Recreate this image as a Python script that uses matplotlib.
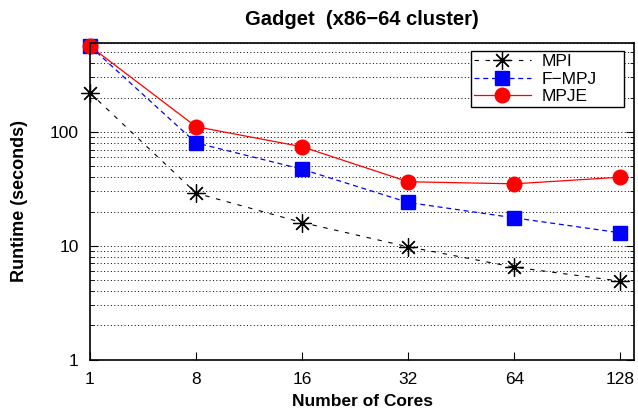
import matplotlib
matplotlib.use("Agg")
import matplotlib.pyplot as plt
from matplotlib.ticker import LogLocator, FixedLocator, NullFormatter

plt.rcParams['font.family'] = ['Liberation Sans', 'DejaVu Sans']

cores = ['1', '8', '16', '32', '64', '128']
mpi = [220, 29, 16, 9.8, 6.5, 4.9]
fmpj = [565, 80, 47, 24, 17.6, 13]
mpje = [565, 111, 74, 36.5, 35, 40]

fig = plt.figure(figsize=(6.38, 4.15), dpi=100)
ax = fig.add_axes([0.141, 0.133, 0.853, 0.763])

x = list(range(len(cores)))
ax.plot(x, mpi, linestyle=(0, (4, 6)), color='black', linewidth=0.8,
        marker=(8, 2, 0), markersize=13, markeredgewidth=0.9,
        markeredgecolor='black', label='MPI', clip_on=False)
ax.plot(x, fmpj, linestyle=(0, (4, 3)), color='blue', linewidth=0.9,
        marker='s', markersize=10, markerfacecolor='blue',
        markeredgecolor='blue', label='F\u2212MPJ', clip_on=False)
ax.plot(x, mpje, linestyle='-', color='red', linewidth=0.9,
        marker='o', markersize=10.5, markerfacecolor='red',
        markeredgecolor='red', label='MPJE', clip_on=False)

ax.set_yscale('log')
ax.set_ylim(1, 600)
ax.set_xlim(0, 5.13)
ax.set_xticks(x)
ax.set_xticklabels(cores)
ax.yaxis.set_major_locator(FixedLocator([1, 10, 100]))
ax.set_yticklabels(['1', '10', '100'])
ax.yaxis.set_minor_locator(LogLocator(base=10, subs=range(2, 10)))
ax.yaxis.set_minor_formatter(NullFormatter())

ax.grid(True, which='both', axis='y', linestyle=(0, (1, 2.5)),
        color='black', linewidth=0.7)
ax.tick_params(axis='both', which='both', direction='in', labelsize=12.5)
ax.tick_params(axis='y', which='both', right=True)
ax.tick_params(axis='y', which='major', length=6, pad=8)
ax.tick_params(axis='y', which='minor', length=3)
ax.tick_params(axis='x', length=6, pad=9)
for s in ax.spines.values():
    s.set_linewidth(1.2)

ax.set_title('Gadget  (x86\u221264 cluster)', fontsize=14.5, fontweight='bold', pad=13)
ax.set_xlabel('Number of Cores', fontsize=12.5, fontweight='bold', labelpad=5)
ax.set_ylabel('Runtime (seconds)', fontsize=13, fontweight='bold', labelpad=16)

leg = ax.legend(loc='upper right', bbox_to_anchor=(0.700, 0.70, 0.282, 0.275),
                mode='expand', borderaxespad=0, fontsize=12.5,
                fancybox=False, framealpha=1, edgecolor='black',
                borderpad=0.15, labelspacing=0.15, handlelength=3.3,
                handletextpad=0.65)
leg.get_frame().set_linewidth(1.0)

fig.savefig('out.png', dpi=100)
